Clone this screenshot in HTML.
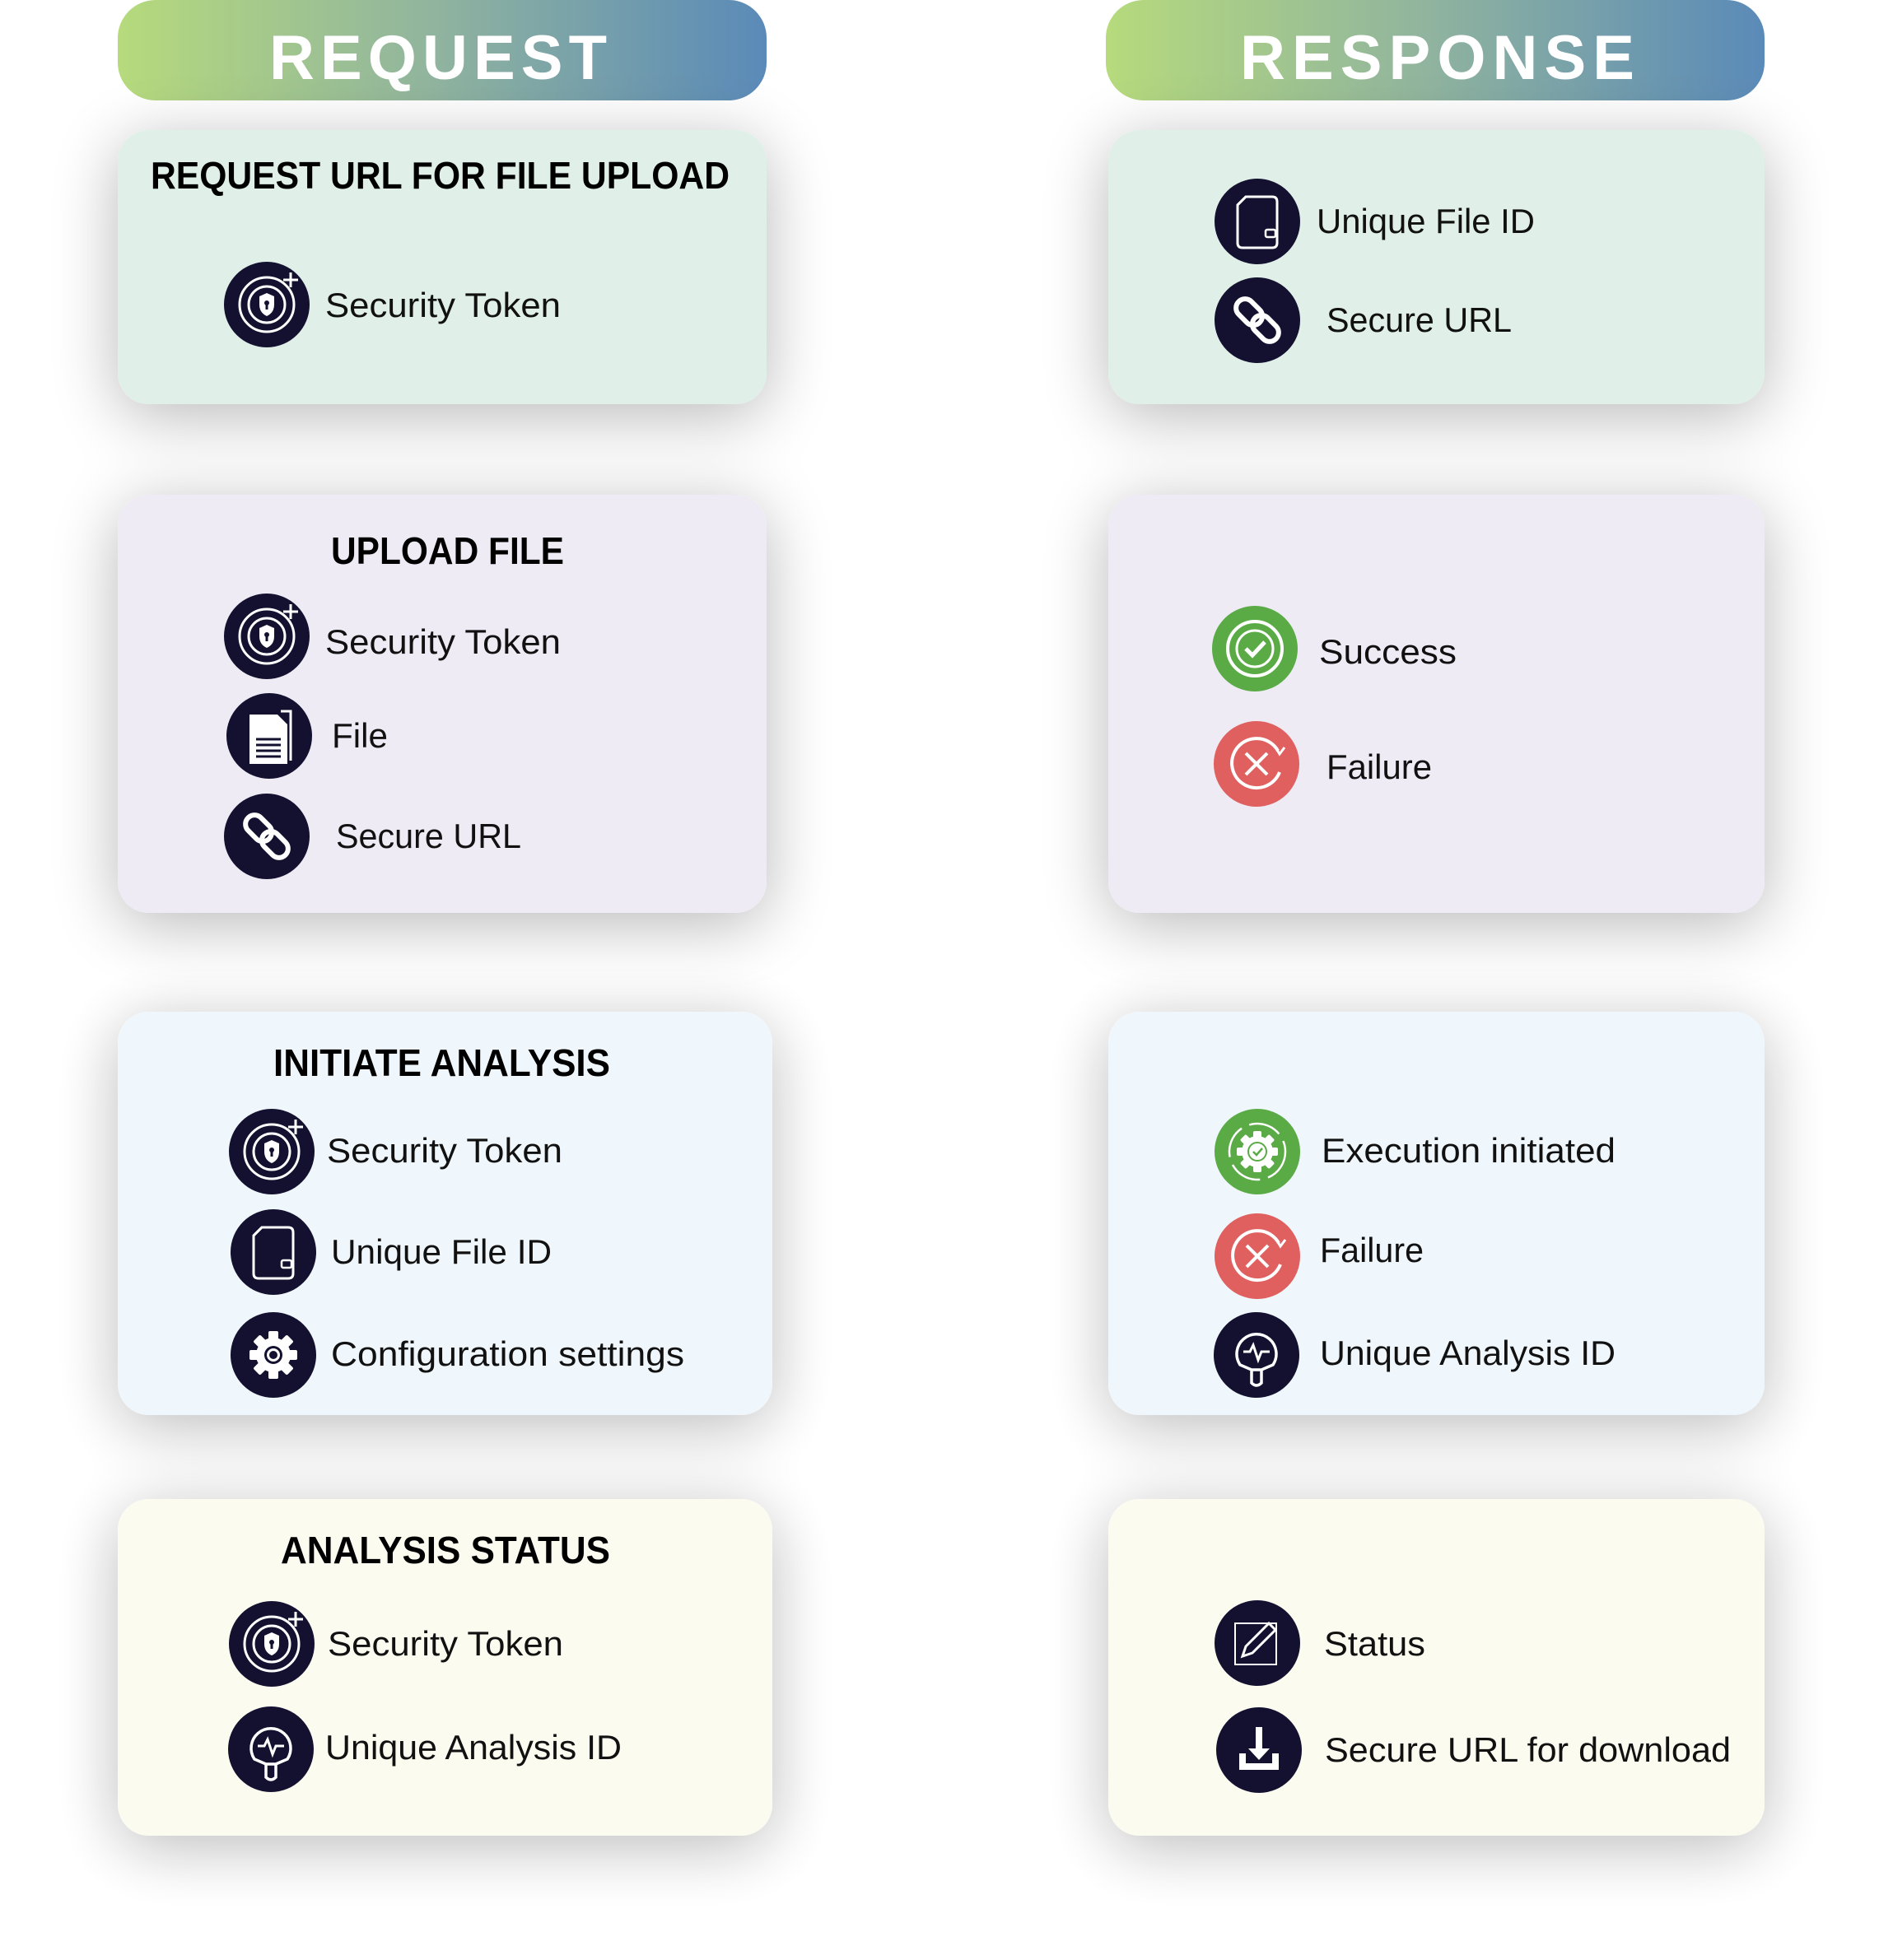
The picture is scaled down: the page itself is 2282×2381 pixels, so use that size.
<!DOCTYPE html>
<html><head><meta charset="utf-8">
<style>
html,body{margin:0;padding:0;background:#fff;}
svg{display:block;}
text{font-family:"Liberation Sans",sans-serif;}
</style></head>
<body>
<svg width="2282" height="2381" viewBox="0 0 2282 2381" xmlns="http://www.w3.org/2000/svg">
<defs>
<linearGradient id="hg" x1="0" x2="1" y1="0" y2="0">
<stop offset="0" stop-color="#b6da7c"/><stop offset="0.5" stop-color="#8fb39f"/><stop offset="1" stop-color="#5a8ab8"/>
</linearGradient>
<filter id="sh" x="-20%" y="-30%" width="140%" height="160%">
<feGaussianBlur in="SourceAlpha" stdDeviation="40"/>
<feOffset dy="14"/>
<feComponentTransfer><feFuncA type="linear" slope="0.28"/></feComponentTransfer>
<feMerge><feMergeNode/><feMergeNode in="SourceGraphic"/></feMerge>
</filter>
<g id="tok">
<circle r="52" fill="#13112f"/>
<circle r="33" fill="none" stroke="#fff" stroke-width="3"/>
<circle r="22" fill="none" stroke="#fff" stroke-width="3"/>
<path d="M-9,-10 L0,-14 L9,-10 L9,0 Q9,10 0,14 Q-9,10 -9,0 Z" fill="#fff"/>
<circle cy="-2" r="3" fill="#13112f"/><rect x="-1.5" y="-2" width="3" height="8" fill="#13112f"/>
<path d="M20,-30 h18 M29,-39 v18" stroke="#fff" stroke-width="3"/>
</g>
<g id="lnk">
<circle r="52" fill="#13112f"/>
<rect x="-30" y="-11" width="36" height="22" rx="11" transform="rotate(45) translate(-2,0)" fill="none" stroke="#fff" stroke-width="6"/>
<rect x="-6" y="-11" width="36" height="22" rx="11" transform="rotate(45) translate(2,0)" fill="none" stroke="#fff" stroke-width="6"/>
</g>
<g id="fid">
<circle r="52" fill="#13112f"/>
<path d="M-14,-30 H18 Q24,-30 24,-24 V26 Q24,32 18,32 H-18 Q-24,32 -24,26 V-20 Z" fill="none" stroke="#fff" stroke-width="3"/>
<path d="M-24,-20 L-14,-30" stroke="#fff" stroke-width="3"/>
<rect x="10" y="10" width="12" height="9" rx="2" fill="none" stroke="#fff" stroke-width="2.5"/>
</g>
<g id="file">
<circle r="52" fill="#13112f"/>
<path d="M-24,-26 H10 L22,-14 V34 H-24 Z" fill="#fff"/>
<path d="M14,-30 H26 V30" fill="none" stroke="#fff" stroke-width="3"/>
<path d="M-16,4 H14 M-16,11 H14 M-16,18 H14 M-16,25 H14" stroke="#13112f" stroke-width="3"/>
</g>
<g id="gear">
<circle r="52" fill="#13112f"/>
<g fill="#fff">
<circle r="21"/>
<rect x="-6" y="-29" width="12" height="58" rx="2"/>
<rect x="-6" y="-29" width="12" height="58" rx="2" transform="rotate(45)"/>
<rect x="-6" y="-29" width="12" height="58" rx="2" transform="rotate(90)"/>
<rect x="-6" y="-29" width="12" height="58" rx="2" transform="rotate(135)"/>
</g>
<circle r="11" fill="#13112f"/><circle r="8" fill="#fff"/><circle r="5" fill="#13112f"/>
</g>
<g id="aid">
<circle r="52" fill="#13112f"/>
<path d="M-20,12 A24,24 0 1 1 20,12 L6,18 H-6 Z" fill="none" stroke="#fff" stroke-width="3.5"/>
<path d="M-6,18 V34 Q0,40 6,34 V18" fill="none" stroke="#fff" stroke-width="3.5"/>
<path d="M-16,-4 H-8 L-4,-12 L2,6 L6,-4 H16" fill="none" stroke="#fff" stroke-width="3"/>
</g>
<g id="ok">
<circle r="52" fill="#5aab46"/>
<circle r="33" fill="none" stroke="#fff" stroke-width="4"/>
<circle r="22" fill="none" stroke="#fff" stroke-width="3"/>
<path d="M-11,0 L-3,8 L12,-8" fill="none" stroke="#fff" stroke-width="5"/>
</g>
<g id="bad">
<circle r="52" fill="#e06060"/>
<path d="M26,-16 A30,30 0 1 0 28,10" fill="none" stroke="#fff" stroke-width="4"/>
<path d="M22,-22 L28,-12 L34,-20" fill="none" stroke="#fff" stroke-width="3"/>
<path d="M-13,-13 L13,13 M13,-13 L-13,13" stroke="#fff" stroke-width="4"/>
</g>
<g id="exe">
<circle r="52" fill="#5aab46"/>
<circle r="34" fill="none" stroke="#fff" stroke-width="2.5" stroke-dasharray="40 10"/>
<g fill="#fff">
<circle r="19"/>
<rect x="-5" y="-25" width="10" height="50" rx="2"/>
<rect x="-5" y="-25" width="10" height="50" rx="2" transform="rotate(45)"/>
<rect x="-5" y="-25" width="10" height="50" rx="2" transform="rotate(90)"/>
<rect x="-5" y="-25" width="10" height="50" rx="2" transform="rotate(135)"/>
</g>
<circle r="11" fill="none" stroke="#5aab46" stroke-width="2"/>
<path d="M-5,0 L-1,4 L6,-4" fill="none" stroke="#5aab46" stroke-width="2.5"/>
</g>
<g id="stat">
<circle r="52" fill="#13112f"/>
<rect x="-27" y="-24" width="50" height="50" fill="none" stroke="#fff" stroke-width="2"/>
<path d="M-18,16 L-14,4 L14,-24 L22,-16 L-6,12 Z" fill="none" stroke="#fff" stroke-width="3"/>
</g>
<g id="dl">
<circle r="52" fill="#13112f"/>
<path d="M-24,4 V24 H24 V4 H16 V16 H-16 V4 Z" fill="#fff"/>
<path d="M-4,-28 H4 V-2 H13 L0,12 L-13,-2 H-4 Z" fill="#fff"/>
</g>
</defs>

<!-- Headers -->
<rect x="143" y="0" width="788" height="122" rx="46" fill="url(#hg)"/>
<text x="327" y="96" font-size="76" font-weight="bold" fill="#fff" textLength="410" lengthAdjust="spacing">REQUEST</text>
<rect x="1343" y="0" width="800" height="122" rx="46" fill="url(#hg)"/>
<text x="1506" y="96" font-size="76" font-weight="bold" fill="#fff" textLength="479" lengthAdjust="spacing">RESPONSE</text>

<!-- Cards -->
<g filter="url(#sh)">
<rect x="143" y="158" width="788" height="333" rx="38" fill="#e0f0e8"/>
<rect x="1346" y="158" width="797" height="333" rx="38" fill="#e0f0e8"/>
<rect x="143" y="601" width="788" height="508" rx="38" fill="#eeebf5"/>
<rect x="1346" y="601" width="797" height="508" rx="38" fill="#eeebf5"/>
</g>
<g filter="url(#sh)" opacity="0.95">
<rect x="143" y="1229" width="795" height="490" rx="38" fill="#f0f7fc"/>
<rect x="1346" y="1229" width="797" height="490" rx="38" fill="#f0f7fc"/>
<rect x="143" y="1821" width="795" height="409" rx="38" fill="#fcfbef"/>
<rect x="1346" y="1821" width="797" height="409" rx="38" fill="#fcfbef"/>
</g>

<!-- Titles -->
<g font-weight="bold" font-size="46" fill="#000">
<text x="183" y="229" textLength="703" lengthAdjust="spacingAndGlyphs">REQUEST URL FOR FILE UPLOAD</text>
<text x="402" y="685" textLength="283" lengthAdjust="spacingAndGlyphs">UPLOAD FILE</text>
<text x="332" y="1307" textLength="409" lengthAdjust="spacingAndGlyphs">INITIATE ANALYSIS</text>
<text x="341" y="1899" textLength="400" lengthAdjust="spacingAndGlyphs">ANALYSIS STATUS</text>
</g>

<!-- Left icons -->
<use href="#tok" x="324" y="370"/>
<use href="#tok" x="324" y="773"/>
<use href="#file" x="327" y="894"/>
<use href="#lnk" x="324" y="1016"/>
<use href="#tok" x="330" y="1399"/>
<use href="#fid" x="332" y="1521"/>
<use href="#gear" x="332" y="1646"/>
<use href="#tok" x="330" y="1997"/>
<use href="#aid" x="329" y="2125"/>

<!-- Right icons -->
<use href="#fid" x="1527" y="269"/>
<use href="#lnk" x="1527" y="389"/>
<use href="#ok" x="1524" y="788"/>
<use href="#bad" x="1526" y="928"/>
<use href="#exe" x="1527" y="1399"/>
<use href="#bad" x="1527" y="1526"/>
<use href="#aid" x="1526" y="1646"/>
<use href="#stat" x="1527" y="1996"/>
<use href="#dl" x="1529" y="2126"/>

<!-- Item labels -->
<g font-size="42" fill="#111">
<text x="395" y="385" textLength="286" lengthAdjust="spacingAndGlyphs">Security Token</text>
<text x="395" y="794" textLength="286" lengthAdjust="spacingAndGlyphs">Security Token</text>
<text x="403" y="908" textLength="68" lengthAdjust="spacingAndGlyphs">File</text>
<text x="408" y="1030" textLength="225" lengthAdjust="spacingAndGlyphs">Secure URL</text>
<text x="397" y="1412" textLength="286" lengthAdjust="spacingAndGlyphs">Security Token</text>
<text x="402" y="1535" textLength="268" lengthAdjust="spacingAndGlyphs">Unique File ID</text>
<text x="402" y="1659" textLength="429" lengthAdjust="spacingAndGlyphs">Configuration settings</text>
<text x="398" y="2011" textLength="286" lengthAdjust="spacingAndGlyphs">Security Token</text>
<text x="395" y="2137" textLength="360" lengthAdjust="spacingAndGlyphs">Unique Analysis ID</text>

<text x="1599" y="283" textLength="265" lengthAdjust="spacingAndGlyphs">Unique File ID</text>
<text x="1611" y="403" textLength="225" lengthAdjust="spacingAndGlyphs">Secure URL</text>
<text x="1602" y="806" textLength="167" lengthAdjust="spacingAndGlyphs">Success</text>
<text x="1611" y="946" textLength="128" lengthAdjust="spacingAndGlyphs">Failure</text>
<text x="1605" y="1412" textLength="357" lengthAdjust="spacingAndGlyphs">Execution initiated</text>
<text x="1603" y="1533" textLength="126" lengthAdjust="spacingAndGlyphs">Failure</text>
<text x="1603" y="1658" textLength="359" lengthAdjust="spacingAndGlyphs">Unique Analysis ID</text>
<text x="1608" y="2011" textLength="123" lengthAdjust="spacingAndGlyphs">Status</text>
<text x="1609" y="2140" textLength="493" lengthAdjust="spacingAndGlyphs">Secure URL for download</text>
</g>
</svg>
</body></html>
